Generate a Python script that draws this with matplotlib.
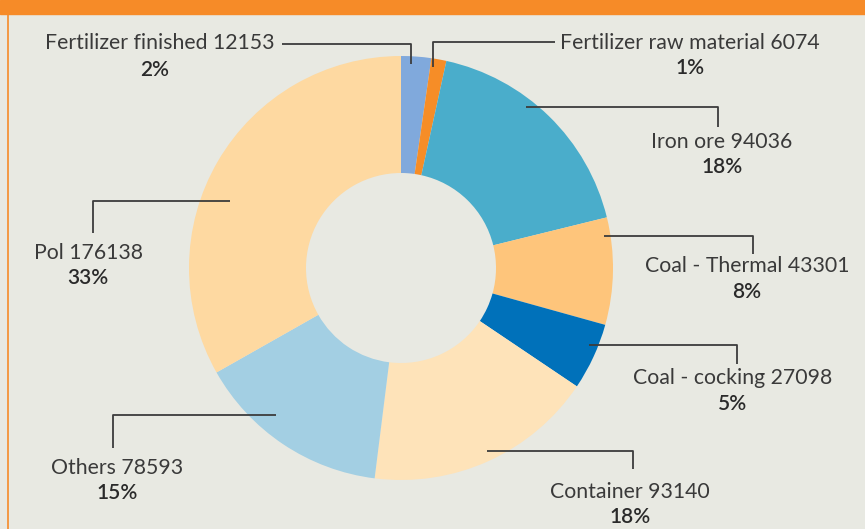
import matplotlib.pyplot as plt
from matplotlib.patches import Rectangle

W, H = 865, 529

cargo = ['Fertilizer finished', 'Fertilizer raw material', 'Iron ore', 'Coal - Thermal',
         'Coal - cocking', 'Container', 'Others', 'Pol']
tonnes = [12153, 6074, 94036, 43301, 27098, 93140, 78593, 176138]
colors = ['#80a9dc', '#f68d27', '#4aadcb', '#fec57b', '#0071ba', '#fee3b9', '#a3cfe3', '#fed9a1']

# leader lines (pixel coords, y from top) and label centres
leaders = [
    [(282, 44), (411, 44), (411, 64)],
    [(433, 67), (433, 42), (555, 42)],
    [(526, 107), (718, 107), (718, 127)],
    [(604, 236), (753, 236), (753, 254)],
    [(589, 345), (737, 345), (737, 364)],
    [(487, 451), (633, 451), (633, 469)],
    [(276, 415), (113, 415), (113, 448)],
    [(230, 201), (93, 201), (93, 233)],
]
label_xy = [(160, 43), (690, 43), (722, 142), (747, 266), (733, 378), (630, 492), (117, 468), (89, 253)]
pct_xy = [(155, 70), (690, 68), (722, 167), (747, 292), (733, 404), (630, 517), (117, 493), (88, 278)]

bg = '#e8e9e2'
orange = '#f68b28'
txt = '#3a3a3a'

plt.rcParams['font.family'] = ['Lato', 'DejaVu Sans']

fig = plt.figure(figsize=(W / 100, H / 100), dpi=100, facecolor=bg)
ax = fig.add_axes([0, 0, 1, 1])
ax.set_facecolor(bg)

total = sum(tonnes)
ax.pie(tonnes, colors=colors, startangle=90, counterclock=False,
       center=(401, H - 268), radius=212,
       wedgeprops=dict(width=117, linewidth=0))

ax.set_xlim(0, W)
ax.set_ylim(0, H)
ax.set_aspect('auto')
ax.axis('off')

# header band and left border
ax.add_patch(Rectangle((0, H - 14), W, 14, color=orange, zorder=5))
ax.plot([7.5, 7.5], [0, H - 14], color=orange, lw=1.2, zorder=5)

for i in range(len(cargo)):
    xs = [p[0] for p in leaders[i]]
    ys = [H - p[1] for p in leaders[i]]
    ax.plot(xs, ys, color='#3c3c3c', lw=1.3, zorder=6, solid_capstyle='butt')
    lx, ly = label_xy[i]
    ax.text(lx, H - ly, f'{cargo[i]} {tonnes[i]}', ha='center', va='center',
            fontsize=15.3, color=txt, fontweight='normal')
    px, py = pct_xy[i]
    pct = round(tonnes[i] / total * 100)
    ax.text(px, H - py, f'{pct}%', ha='center', va='center',
            fontsize=15, color='#2a2a2a', fontweight='semibold')

fig.savefig('out.png', dpi=100, facecolor=bg)
